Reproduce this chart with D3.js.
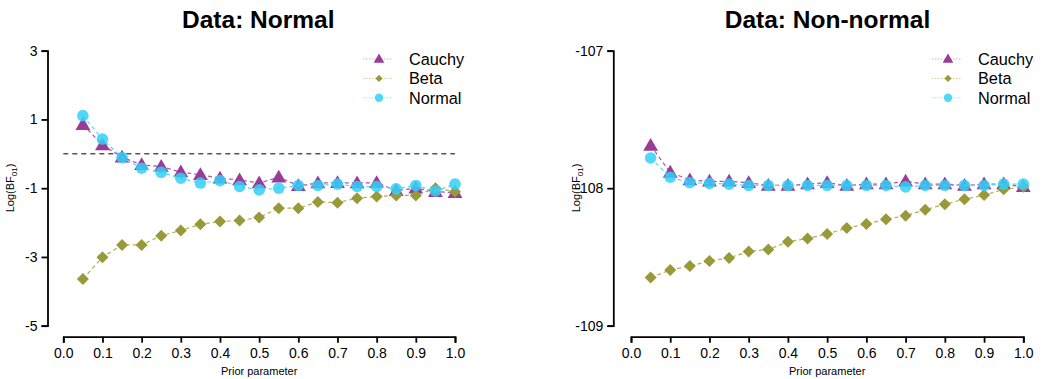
<!DOCTYPE html>
<html>
<head>
<meta charset="utf-8">
<script src="https://cdn.jsdelivr.net/npm/d3@7"></script>
<style>
  body { margin: 0; background: #fff; }
  text { font-family: "Liberation Sans", Arial, sans-serif; }
</style>
</head>
<body>
<div id="canvas"></div>
<script>
// prior parameter values on the x axis
const priorParam = [0.05, 0.1, 0.15, 0.2, 0.25, 0.3, 0.35, 0.4, 0.45, 0.5,
                    0.55, 0.6, 0.65, 0.7, 0.75, 0.8, 0.85, 0.9, 0.95, 1.0];

// Data: Normal
const normCauchy = [0.85, 0.26, -0.1, -0.32, -0.37, -0.53, -0.61, -0.71, -0.76, -0.85,
                    -0.68, -0.93, -0.85, -0.84, -0.85, -0.84, -1.07, -1.0, -1.1, -1.13];
const normBeta   = [-3.64, -3.01, -2.65, -2.65, -2.38, -2.23, -2.05, -1.97, -1.94, -1.85,
                    -1.58, -1.58, -1.4, -1.42, -1.29, -1.24, -1.21, -1.21, -1.0, -1.1];
const normNormal = [1.11, 0.43, -0.11, -0.42, -0.54, -0.71, -0.85, -0.78, -0.95, -1.05,
                    -1.0, -0.92, -0.92, -0.88, -0.95, -0.95, -1.02, -0.92, -1.08, -0.88];

// Data: Non-normal
const nonCauchy = [-107.69, -107.885, -107.94, -107.95, -107.95, -107.96, -107.98, -107.98, -107.97, -107.96,
                   -107.98, -107.97, -107.97, -107.95, -107.97, -107.97, -107.98, -107.97, -107.97, -107.99];
const nonBeta   = [-108.65, -108.595, -108.566, -108.53, -108.507, -108.46, -108.445, -108.39, -108.365, -108.333,
                   -108.29, -108.26, -108.226, -108.2, -108.156, -108.117, -108.08, -108.05, -108.008, -107.99];
const nonNormal = [-107.78, -107.92, -107.96, -107.965, -107.97, -107.98, -107.98, -107.98, -107.98, -107.98,
                   -107.98, -107.98, -107.98, -107.99, -107.98, -107.98, -107.98, -107.98, -107.97, -107.97];

const seriesNames = ["Cauchy", "Beta", "Normal"];
const xTicks = [0, 0.1, 0.2, 0.3, 0.4, 0.5, 0.6, 0.7, 0.8, 0.9, 1.0];
const leftYTicks = [3, 1, -1, -3, -5];
const rightYTicks = [-107, -108, -109];

const colors = {Cauchy: "#983c98", Beta: "#99993a", Normal: "#33d0f7"};
const lineColors = {Cauchy: "#a855a8", Beta: "#b0b050", Normal: "#5ad8f5"};
const legendLineColors = {Cauchy: "#d6a8d6", Beta: "#cfcf98", Normal: "#9ce6f8"};

const svg = d3.select("#canvas").append("svg")
    .attr("width", 1042)
    .attr("height", 379);

const panels = [
  {title: "Data: Normal", titleX: 258.3, x0: 63.3, x1: 455, yDomain: [-5, 3], ticks: leftYTicks,
   axisX: 47.5, labelX: 13.5, legendX: 363, zeroLine: true,
   series: {Cauchy: normCauchy, Beta: normBeta, Normal: normNormal}},
  {title: "Data: Non-normal", titleX: 827.5, x0: 631, x1: 1023.3, yDomain: [-109, -107], ticks: rightYTicks,
   axisX: 613.3, labelX: 580, legendX: 932, zeroLine: false,
   series: {Cauchy: nonCauchy, Beta: nonBeta, Normal: nonNormal}}
];

function drawMarker(g, name, cx, cy, s) {
  s = s || 1;
  if (name === "Cauchy") {
    g.append("path")
      .attr("d", d3.symbol(d3.symbolTriangle, 95 * s * s)())
      .attr("transform", `translate(${cx},${cy + s})`)
      .attr("fill", colors.Cauchy);
  } else if (name === "Beta") {
    g.append("path")
      .attr("d", `M0,${-6 * s}L${6 * s},0L0,${6 * s}L${-6 * s},0Z`)
      .attr("transform", `translate(${cx},${cy})`)
      .attr("fill", colors.Beta);
  } else {
    g.append("circle")
      .attr("cx", cx).attr("cy", cy).attr("r", 5.8 * s)
      .attr("fill", colors.Normal)
      .attr("fill-opacity", 0.85);
  }
}

panels.forEach(p => {
  const x = d3.scaleLinear().domain([0, 1]).range([p.x0, p.x1]);
  const y = d3.scaleLinear().domain(p.yDomain).range([325.7, 50.7]);
  const g = svg.append("g");

  // title
  g.append("text")
    .attr("x", p.titleX)
    .attr("y", 28.3)
    .attr("text-anchor", "middle")
    .attr("font-size", 24.5)
    .attr("font-weight", "bold")
    .text(p.title);

  // y axis
  const yAxis = g.append("g")
    .attr("transform", `translate(${p.axisX},0)`)
    .call(d3.axisLeft(y).tickValues(p.ticks).tickSizeOuter(0).tickSize(6).tickPadding(4)
      .tickFormat(d => String(d)));
  yAxis.select(".domain").attr("stroke-width", 1.8);
  yAxis.selectAll(".tick line").attr("stroke-width", 1.8);
  yAxis.selectAll(".tick text").attr("font-size", 14).attr("fill", "#000")
    .attr("font-family", "Liberation Sans, Arial, sans-serif");

  // x axis
  const xAxis = g.append("g")
    .attr("transform", "translate(0,336.7)")
    .call(d3.axisBottom(x).tickValues(xTicks).tickSizeOuter(0).tickSize(6).tickPadding(5)
      .tickFormat(d3.format(".1f")));
  xAxis.select(".domain").attr("stroke-width", 1.8);
  xAxis.selectAll(".tick line").attr("stroke-width", 1.8);
  xAxis.selectAll(".tick text").attr("font-size", 14).attr("fill", "#000")
    .attr("font-family", "Liberation Sans, Arial, sans-serif");

  // axis labels
  g.append("text")
    .attr("x", (p.x0 + p.x1) / 2)
    .attr("y", 375)
    .attr("text-anchor", "middle")
    .attr("font-size", 11)
    .text("Prior parameter");

  const yl = g.append("text")
    .attr("transform", `translate(${p.labelX},188) rotate(-90)`)
    .attr("text-anchor", "middle")
    .attr("font-size", 11);
  yl.append("tspan").text("Log(BF");
  yl.append("tspan").attr("font-size", 8).attr("dy", 3).text("01");
  yl.append("tspan").attr("dy", -3).text(")");

  if (p.zeroLine) {
    g.append("line")
      .attr("x1", x(0)).attr("x2", x(1))
      .attr("y1", y(0)).attr("y2", y(0))
      .attr("stroke", "#000")
      .attr("stroke-width", 1)
      .attr("stroke-dasharray", "5,4");
  }

  const line = d3.line()
    .x((d, i) => x(priorParam[i]))
    .y(d => y(d));

  seriesNames.forEach(name => {
    const vals = p.series[name];
    g.append("path")
      .datum(vals)
      .attr("d", line)
      .attr("fill", "none")
      .attr("stroke", lineColors[name])
      .attr("stroke-width", 1.2)
      .attr("stroke-dasharray", "4,3");
    const mg = g.append("g");
    vals.forEach((v, i) => drawMarker(mg, name, x(priorParam[i]), y(v)));
  });

  // legend
  seriesNames.forEach((name, i) => {
    const ly = 59 + i * 19.4;
    g.append("line")
      .attr("x1", p.legendX).attr("x2", p.legendX + 30)
      .attr("y1", ly).attr("y2", ly)
      .attr("stroke", legendLineColors[name])
      .attr("stroke-width", 1)
      .attr("stroke-dasharray", "1.5,1.5");
    const lg = g.append("g");
    drawMarker(lg, name, p.legendX + 16, ly, name === "Beta" ? 0.6 : 0.72);
    g.append("text")
      .attr("x", p.legendX + 46)
      .attr("y", ly + 6)
      .attr("font-size", 16.3)
      .text(name);
  });
});
</script>
</body>
</html>
